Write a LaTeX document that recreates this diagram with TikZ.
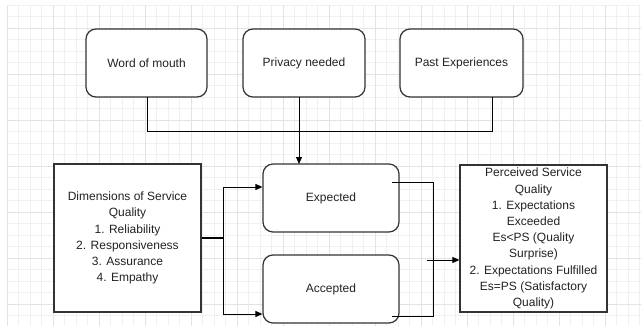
\documentclass[tikz,border=0pt]{standalone}
\usepackage{fontspec}
\setmainfont{Liberation Sans}
\usetikzlibrary{arrows.meta}
\definecolor{boxline}{HTML}{333333}
\definecolor{txt}{HTML}{222222}
\tikzset{
  gridminor/.style={draw=black!6, line width=0.6pt},
  gridmajor/.style={draw=black!11, line width=0.6pt},
  rbox/.style={draw=boxline, line width=1.2pt, rounded corners=10pt, fill=white, align=center,
    text=txt, font=\fontsize{12}{16.2}\selectfont, inner sep=0pt},
  sbox/.style={draw=boxline, line width=1.2pt, fill=white, align=center,
    text=txt, font=\fontsize{12}{16.2}\selectfont, inner sep=0pt},
  conn/.style={draw=black, line width=0.9pt},
  arr/.style={conn, -{Triangle[length=7pt,width=6pt]}},
}
\begin{document}
\begin{tikzpicture}[x=1pt,y=-1pt]
\useasboundingbox (0,0) rectangle (641,332);
\fill[white] (0,0) rectangle (641,332);
% grid
\foreach \i in {0,...,55} \draw[gridminor] ({7+11.5*\i},5) -- ({7+11.5*\i},326);
\foreach \j in {0,...,27} \draw[gridminor] (7,{5+11.5*\j}) -- (641,{5+11.5*\j});
\foreach \i in {0,...,13} \draw[gridmajor] ({7+46*\i},5) -- ({7+46*\i},326);
\foreach \j in {0,...,6} \draw[gridmajor] (7,{28+46*\j}) -- (641,{28+46*\j});

% nodes
\node[rbox, minimum width=121pt, minimum height=68pt] (wom) at (146.5,63) {Word of mouth};
\node[rbox, minimum width=122pt, minimum height=68pt] (priv) at (304,63) {Privacy needed};
\node[rbox, minimum width=123pt, minimum height=68pt] (past) at (461.5,63) {Past Experiences};
\node[rbox, minimum width=136pt, minimum height=68pt] (exp) at (331,198) {Expected};
\node[rbox, minimum width=136pt, minimum height=68pt] (acc) at (331,289) {Accepted};
\node[sbox, minimum width=147pt, minimum height=148pt] (dim) at (127.5,238)
  {Dimensions of Service\\Quality\\1. Reliability\\2. Responsiveness\\3. Assurance\\4. Empathy};
\node[sbox, minimum width=147pt, minimum height=147pt] (perc) at (533.5,238.5)
  {Perceived Service\\Quality\\1. Expectations\\Exceeded\\Es<PS (Quality\\Surprise)\\2. Expectations Fulfilled\\Es=PS (Satisfactory\\Quality)};

% coordinates for connectors
\coordinate (womb) at (147,97);
\coordinate (pastb) at (492,97);
\coordinate (privb) at (299,97);
\coordinate (expt) at (299,164);
\coordinate (jx) at (223,238);
\coordinate (expo) at (392,182);
\coordinate (acco) at (392,316);
\coordinate (mergeout) at (427,260);

% connectors
\draw[conn] (womb) |- (pastb |- 0,131) -- (pastb);
\draw[arr] (privb) -- (expt);
\draw[draw=black, line width=1.8pt] (dim.east |- jx) -- (jx);
\draw[arr] (jx) |- (exp.west |- 0,187);
\draw[arr] (jx) |- (acc.west |- 0,314);
\draw[conn] (expo) -| (433,316) -- (acco);
\draw[arr] (mergeout) -- (perc.west |- mergeout);
\end{tikzpicture}
\end{document}
